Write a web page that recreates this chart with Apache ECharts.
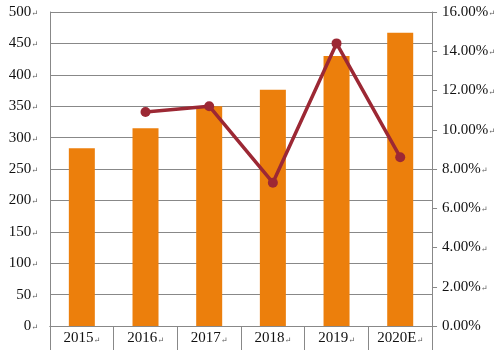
<!DOCTYPE html>
<html>
<head>
<meta charset="utf-8">
<script src="https://cdn.jsdelivr.net/npm/echarts@6/dist/echarts.min.js"></script>
<style>
  html, body { margin: 0; padding: 0; background: #fff; }
  #chart { width: 498px; height: 350px; }
</style>
</head>
<body>
<div id="chart"></div>
<script>
// Years shown along the bottom row
const years = ['2015', '2016', '2017', '2018', '2019', '2020E'];
// Market size (bars, left axis)
const sizeValues = [283, 315, 350, 376, 430, 467];
// Year-on-year growth in percent (line, right axis); no value for the first year
const growthValues = [null, 10.9, 11.2, 7.3, 14.4, 8.6];
// Tick label texts
const leftTicks = [0, 50, 100, 150, 200, 250, 300, 350, 400, 450, 500];
const rightTicks = [0, 2, 4, 6, 8, 10, 12, 14, 16];

const serif = '"Liberation Serif", "DejaVu Serif", serif';
const mark = { fontSize: 8, color: '#555', fontFamily: serif, padding: [4, 0, 0, 0] };

const chart = echarts.init(document.getElementById('chart'));
chart.setOption({
  animation: false,
  grid: { left: 50, right: 63, top: 12, bottom: 24, containLabel: false },
  xAxis: [
    {
      type: 'category',
      data: years,
      axisLine: { show: true, lineStyle: { color: '#888', width: 1 } },
      axisTick: { show: true, interval: 0, length: 24, alignWithLabel: false, lineStyle: { color: '#888' } },
      axisLabel: {
        interval: 0,
        margin: 5,
        fontFamily: serif, fontSize: 15, color: '#111',
        formatter: v => v + '{r|↵}',
        rich: { r: mark }
      }
    },
    {
      type: 'category',
      data: years,
      position: 'bottom',
      offset: 22,
      axisLine: { show: true, lineStyle: { color: '#888', width: 1 } },
      axisTick: { show: false },
      axisLabel: { show: false }
    }
  ],
  yAxis: [
    {
      type: 'value',
      min: leftTicks[0],
      max: leftTicks[leftTicks.length - 1],
      interval: 50,
      axisLine: { show: true, lineStyle: { color: '#888' } },
      axisTick: { show: false },
      splitLine: { show: true, lineStyle: { color: '#888', width: 1 } },
      axisLabel: {
        margin: 12,
        fontFamily: serif, fontSize: 15, color: '#111',
        formatter: v => v + '{r|↵}',
        rich: { r: mark }
      }
    },
    {
      type: 'value',
      min: rightTicks[0],
      max: rightTicks[rightTicks.length - 1],
      interval: 2,
      position: 'right',
      axisLine: { show: true, lineStyle: { color: '#888' } },
      axisTick: { show: true, length: 5, inside: false, lineStyle: { color: '#888' } },
      splitLine: { show: false },
      axisLabel: {
        margin: 10,
        fontFamily: serif, fontSize: 15, color: '#111',
        formatter: v => v.toFixed(2) + '%' + (v === 0 ? '' : '{r|↵}'),
        rich: { r: mark }
      }
    }
  ],
  series: [
    {
      type: 'bar',
      data: sizeValues,
      yAxisIndex: 0,
      barWidth: 26,
      itemStyle: { color: '#EC7F0C' }
    },
    {
      type: 'line',
      data: growthValues,
      yAxisIndex: 1,
      connectNulls: false,
      symbol: 'circle',
      symbolSize: 10,
      lineStyle: { color: '#9C2834', width: 3.5 },
      itemStyle: { color: '#9C2834' }
    }
  ]
});
</script>
</body>
</html>
